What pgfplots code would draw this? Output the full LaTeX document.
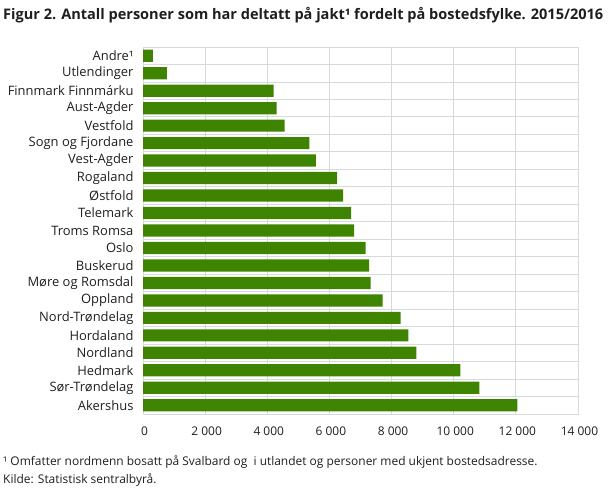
\documentclass[border=0pt]{standalone}
\usepackage{pgfplots}
\pgfplotsset{compat=1.18}
\usepackage{fontspec}
\setmainfont{Open Sans}
\definecolor{barg}{RGB}{62,132,0}
\definecolor{gridc}{RGB}{217,217,217}
\definecolor{txt}{RGB}{30,30,30}

\begin{document}
\begin{tikzpicture}
\path[use as bounding box] (0,0) rectangle (609bp,488bp);
\begin{axis}[
    at={(143bp,74bp)}, anchor=south west,
    scale only axis,
    width=435bp, height=367bp,
    xbar, bar width=12.2bp,
    xmin=0, xmax=14000,
    ymin=-0.5, ymax=20.5, y dir=reverse,
    scaled x ticks=false,
    xtick={0,2000,...,14000},
    xticklabels={0,2 000,4 000,6 000,8 000,10 000,12 000,14 000},
    ytick={0,...,20},
    yticklabels={Andre¹,Utlendinger,Finnmark Finnmárku,Aust-Agder,Vestfold,
        Sogn og Fjordane,Vest-Agder,Rogaland,Østfold,Telemark,Troms Romsa,
        Oslo,Buskerud,Møre og Romsdal,Oppland,Nord-Trøndelag,Hordaland,
        Nordland,Hedmark,Sør-Trøndelag,Akershus},
    minor ytick={-0.5,0.5,...,20.5},
    xmajorgrids, yminorgrids,
    grid style={gridc, line width=0.9bp},
    minor grid style={gridc, line width=0.9bp},
    axis line style={gridc, line width=0.9bp},
    tick style={draw=none},
    major tick length=0pt, minor tick length=0pt,
    ticklabel style={text=txt},
    xticklabel style={font=\fontsize{12}{14}\selectfont, yshift=-9bp, xshift=1.5bp},
    yticklabel style={font=\fontsize{13}{15}\selectfont, xshift=-6bp},
]
\addplot[fill=barg, draw=none] coordinates {
    (320,0) (768,1) (4203,2) (4299,3) (4555,4) (5355,5) (5560,6)
    (6246,7) (6438,8) (6696,9) (6796,10) (7163,11) (7275,12) (7325,13)
    (7713,14) (8288,15) (8538,16) (8800,17) (10213,18) (10825,19) (12050,20)
};
\end{axis}
\node[anchor=west, inner sep=0pt, text=txt, font=\fontsize{14.6}{17}\selectfont\bfseries]
    at (3bp,473bp) {Figur 2. Antall personer som har deltatt på jakt¹ fordelt på bostedsfylke. 2015/2016};
\node[anchor=west, inner sep=0pt, text=txt, font=\fontsize{12}{14}\selectfont]
    at (3bp,26bp) {¹ Omfatter nordmenn bosatt på Svalbard og\ \ i utlandet og personer med ukjent bostedsadresse.};
\node[anchor=west, inner sep=0pt, text=txt, font=\fontsize{12}{14}\selectfont]
    at (3bp,8bp) {Kilde: Statistisk sentralbyrå.};
\end{tikzpicture}
\end{document}
